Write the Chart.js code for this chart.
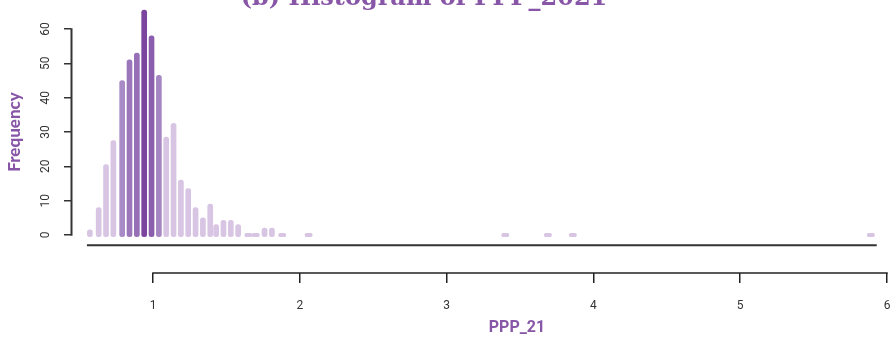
<!DOCTYPE html>
<html>
<head>
<meta charset="utf-8">
<script src="https://cdn.jsdelivr.net/npm/chart.js@4.4.0/dist/chart.umd.min.js"></script>
<style>
  html, body { margin: 0; padding: 0; background: #fff; }
  #wrap { width: 895px; height: 342px; }
</style>
</head>
<body>
<div id="wrap"><canvas id="chart-1" width="895" height="342"></canvas></div>
<script>
// bin mid-points (PPP_21) and their frequencies
const binMids = [0.57, 0.63, 0.68, 0.73, 0.79, 0.84, 0.89, 0.94, 0.99, 1.04, 1.09, 1.14,
                 1.19, 1.24, 1.29, 1.34, 1.39, 1.43, 1.48, 1.53, 1.58, 1.76, 1.81]
const counts = [1.5, 8, 20.5, 27.5, 45, 51, 53, 65.5, 58, 46.5, 28.5, 32.5,
                16, 13.5, 8, 5, 9, 3, 4.3, 4.3, 3, 2, 2]
// near-empty bins, drawn as flat dashes on the baseline
const dashMids = [1.65, 1.70, 1.88, 2.06, 3.40, 3.69, 3.86, 5.89]
const dashCounts = [0.5, 0.5, 0.5, 0.5, 0.5, 0.5, 0.5, 0.5]

const yTicks = [0, 10, 20, 30, 40, 50, 60]
const xTicks = [1, 2, 3, 4, 5, 6]

const titleText = '(b) Histogram of PPP_2021'
const xLabel = 'PPP_21'
const yLabel = 'Frequency'

const purple = '#8856a7'
const light = '#d8c4e3'
const mid = [168, 139, 198]
const dark = [123, 68, 158]

// layout in pixels
const areaLeft = 71, areaRight = 890, areaTop = 5, areaBottom = 273
const px1 = 153, px6 = 887          // where 1 and 6 sit on the bottom axis
const zeroPx = 235, sixtyPx = 29    // where 0 and 60 sit on the left axis

const pxPerX = (px6 - px1) / 5
const xMin = 1 - (px1 - areaLeft) / pxPerX
const xMax = 6 + (areaRight - px6) / pxPerX
const pxPerY = (zeroPx - sixtyPx) / 60
const yMax = (zeroPx - areaTop) / pxPerY
const yMin = -(areaBottom - zeroPx) / pxPerY

const colorFor = v => {
  if (v < 40) return light
  const t = Math.max(0, Math.min(1, (v - 45) / 20.5))
  const c = mid.map((m, i) => Math.round(m + (dark[i] - m) * t))
  return `rgb(${c[0]},${c[1]},${c[2]})`
}

const noPad = s => { s.paddingLeft = 0; s.paddingRight = 0; s.paddingTop = 0; s.paddingBottom = 0 }

const extras = {
  id: 'extras',
  afterDraw(chart) {
    const { ctx, scales: { x, y } } = chart
    const axisX = x.getPixelForValue(xMin) + 0.5
    const axisY = y.getPixelForValue(yMin)
    ctx.save()
    ctx.strokeStyle = '#333'
    // left axis line, 0..60
    ctx.lineWidth = 2
    ctx.beginPath()
    ctx.moveTo(axisX, y.getPixelForValue(0) + 0.75)
    ctx.lineTo(axisX, y.getPixelForValue(60) - 0.75)
    ctx.stroke()
    // base line under the bars
    ctx.beginPath()
    ctx.moveTo(x.getPixelForValue(0.55), y.getPixelForValue(-3))
    ctx.lineTo(x.getPixelForValue(5.93), y.getPixelForValue(-3))
    ctx.stroke()
    // bottom axis line, 1..6
    ctx.lineWidth = 1.5
    ctx.strokeStyle = '#222'
    ctx.beginPath()
    ctx.moveTo(x.getPixelForValue(1) - 0.75, axisY)
    ctx.lineTo(x.getPixelForValue(6) + 0.75, axisY)
    ctx.stroke()

    // texts
    ctx.fillStyle = purple
    ctx.textAlign = 'center'
    ctx.textBaseline = 'alphabetic'
    ctx.font = 'bold 24px "DejaVu Serif"'
    ctx.fillText(titleText, 424, 5)

    ctx.textBaseline = 'middle'
    ctx.font = 'bold 16px "Liberation Sans Narrow", "Roboto"'
    ctx.fillText(xLabel, (x.getPixelForValue(1) + x.getPixelForValue(6)) / 2 - 3, 328)

    ctx.translate(15, (y.getPixelForValue(0) + y.getPixelForValue(60)) / 2)
    ctx.rotate(-Math.PI / 2)
    ctx.font = '900 17px "Lato"'
    ctx.fillText(yLabel, 0, 0)
    ctx.restore()
  }
}

new Chart(document.getElementById('chart-1').getContext('2d'), {
  type: 'bar',
  data: {
    datasets: [{
      data: binMids.map((m, i) => ({ x: m, y: counts[i] })),
      backgroundColor: counts.map(colorFor),
      barThickness: 5,
      borderRadius: 2.5,
      borderSkipped: false,
      base: -0.5,
      grouped: false
    }, {
      data: dashMids.map((m, i) => ({ x: m, y: dashCounts[i] })),
      backgroundColor: light,
      barThickness: 7,
      borderRadius: 1.5,
      borderSkipped: false,
      base: -0.5,
      grouped: false
    }]
  },
  options: {
    responsive: false,
    devicePixelRatio: 1,
    animation: false,
    layout: { padding: { top: areaTop, right: 895 - areaRight, bottom: 0, left: 0 } },
    plugins: { legend: { display: false }, tooltip: { enabled: false } },
    scales: {
      x: {
        type: 'linear',
        min: xMin,
        max: xMax,
        offset: false,
        afterBuildTicks: s => { s.ticks = xTicks.map(v => ({ value: v })) },
        afterFit: s => { s.height = 342 - areaBottom; noPad(s) },
        grid: { offset: false, drawOnChartArea: false, tickLength: 10, color: '#222', lineWidth: 1.5 },
        border: { display: false },
        ticks: { padding: 16, color: '#333', font: { family: '"Liberation Sans Narrow", Roboto', size: 12 } }
      },
      y: {
        min: yMin,
        max: yMax,
        afterBuildTicks: s => { s.ticks = yTicks.map(v => ({ value: v })) },
        afterFit: s => { s.width = areaLeft; noPad(s) },
        grid: { drawOnChartArea: false, tickLength: 7, color: '#333', lineWidth: 1.5 },
        border: { display: false },
        ticks: {
          minRotation: 90, maxRotation: 90, crossAlign: 'center', padding: 11,
          color: '#333', font: { family: 'Roboto', size: 12 }
        }
      }
    }
  },
  plugins: [extras]
})
</script>
</body>
</html>
